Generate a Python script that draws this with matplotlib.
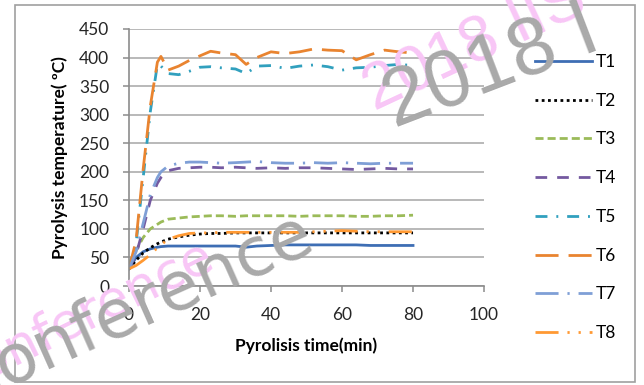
#plotting pyrolysis temperature against time for the 8 runs
import numpy as np
import matplotlib.pyplot as plt
from matplotlib.patches import Rectangle

#time axis in minutes, shared by every run
time = [0, 2, 4, 6, 8, 9, 11, 14, 17, 20, 23, 26, 30, 33, 36, 40, 44, 48, 52, 56, 60, 64, 68, 72, 76, 80]

#temperatures (deg C)
T1 = [30, 50, 60, 65, 68, 69, 70, 70, 70, 70, 70, 70, 70, 68, 70, 71, 72, 72, 72, 72, 72, 72, 71, 71, 71, 71]
T2 = [30, 45, 58, 67, 74, 77, 82, 86, 89, 91, 92, 92, 93, 93, 93, 93, 93, 93, 93, 93, 93, 93, 93, 93, 93, 93]
T3 = [40, 62, 85, 100, 108, 112, 117, 119, 121, 122, 123, 123, 122, 123, 123, 123, 123, 122, 123, 123, 123, 122, 122, 123, 123, 124]
T4 = [30, 55, 100, 150, 180, 190, 202, 206, 207, 208, 208, 207, 208, 207, 206, 207, 206, 207, 207, 206, 205, 204, 205, 206, 205, 205]
T5 = [30, 75, 190, 305, 388, 385, 372, 370, 376, 383, 384, 382, 380, 372, 385, 386, 381, 385, 387, 384, 378, 382, 383, 386, 388, 386]
T6 = [30, 80, 205, 315, 392, 402, 378, 385, 395, 403, 411, 408, 405, 388, 400, 410, 407, 410, 415, 413, 412, 396, 405, 413, 410, 408]
T7 = [30, 60, 110, 160, 190, 200, 210, 215, 217, 217, 216, 215, 216, 217, 218, 216, 215, 215, 216, 215, 216, 215, 214, 215, 215, 215]
T8 = [30, 36, 45, 55, 67, 72, 82, 88, 92, 93, 93, 94, 94, 94, 94, 94, 94, 94, 95, 96, 97, 96, 95, 95, 95, 95]

labels = ['T1', 'T2', 'T3', 'T4', 'T5', 'T6', 'T7', 'T8']
runs = [T1, T2, T3, T4, T5, T6, T7, T8]

#excel style colours and dash types
colours = ['#3E6EB4', '#000000', '#9BBB59', '#7459A0', '#31A0BE', '#E98430', '#7F9FD6', '#FF9933']
styles = ['-',
          (0, (1.0, 1.25)),
          (0, (2.9, 1.45)),
          (0, (4.2, 3.6)),
          (0, (4.3, 3.2, 0.7, 3.2)),
          (0, (8.3, 3.6)),
          (0, (8.3, 3.2, 0.8, 3.2)),
          (0, (8.3, 3.2, 0.8, 3.2, 0.8, 3.2))]

plt.rcParams['font.family'] = ['Lato', 'DejaVu Sans']

fig = plt.figure(figsize=(6.44, 3.85), dpi=100)
ax1 = fig.add_axes([0.2003, 0.2571, 0.5513, 0.6676])

for run, lab, col, ls in zip(runs, labels, colours, styles):
    ax1.plot(time, run, color=col, linestyle=ls, linewidth=2, label=lab)

ax1.set_xlim(0, 100)
ax1.set_ylim(0, 450)
ax1.set_xticks(np.arange(0, 101, 20))
ax1.set_yticks(np.arange(0, 451, 50))

#grey frame like excel
for side in ['top', 'right']:
    ax1.spines[side].set_visible(False)
for side in ['left', 'bottom']:
    ax1.spines[side].set_color('#8C8C8C')
    ax1.spines[side].set_linewidth(1.2)
ax1.grid(axis='y', color='#A6A6A6', linewidth=1.1)
ax1.set_axisbelow(True)
ax1.tick_params(axis='both', labelsize=12.5, colors='#8C8C8C', labelcolor='#262626', length=4.3, width=1.1)
ax1.tick_params(axis='x', pad=11)
ax1.tick_params(axis='y', pad=10)

ax1.set_xlabel('Pyrolisis time(min)', fontsize=12.5, fontweight='bold', labelpad=10)
ax1.set_ylabel('Pyrolysis temperature( ºC)', fontsize=12.5, fontweight='bold', labelpad=8)

ax1.legend(loc='upper left', bbox_to_anchor=(0.831, 0.860), bbox_transform=fig.transFigure,
           frameon=False, fontsize=12.5, handlelength=3.3, handletextpad=0.2,
           labelspacing=1.31, borderpad=0, borderaxespad=0)

#outer chart border
fig.patches.append(Rectangle((15 / 644, 1 - 382 / 385), 620 / 644, 377 / 385, transform=fig.transFigure,
                             fill=False, edgecolor='#A0A0A0', linewidth=1.2))

#watermarks stamped over the picture
fig.text(-40 / 644, 1 - 392 / 385, 'conference', fontsize=37, color='#F8C6F6', rotation=26,
         rotation_mode='anchor', family='DejaVu Sans', zorder=10)
fig.text(-28 / 644, 1 - 402 / 385, 'conference', fontsize=49, color='#A9A9A9', rotation=24,
         rotation_mode='anchor', family='DejaVu Sans', zorder=11)
fig.text(375 / 644, 1 - 112 / 385, '2018 IIS', fontsize=46, color='#F8C6F6', rotation=25,
         rotation_mode='anchor', family='Liberation Sans', zorder=10)
fig.text(395 / 644, 1 - 128 / 385, '2018 I', fontsize=58, color='#A9A9A9', rotation=21,
         rotation_mode='anchor', family='Liberation Sans', zorder=11)

plt.savefig('out.png', dpi=100)
